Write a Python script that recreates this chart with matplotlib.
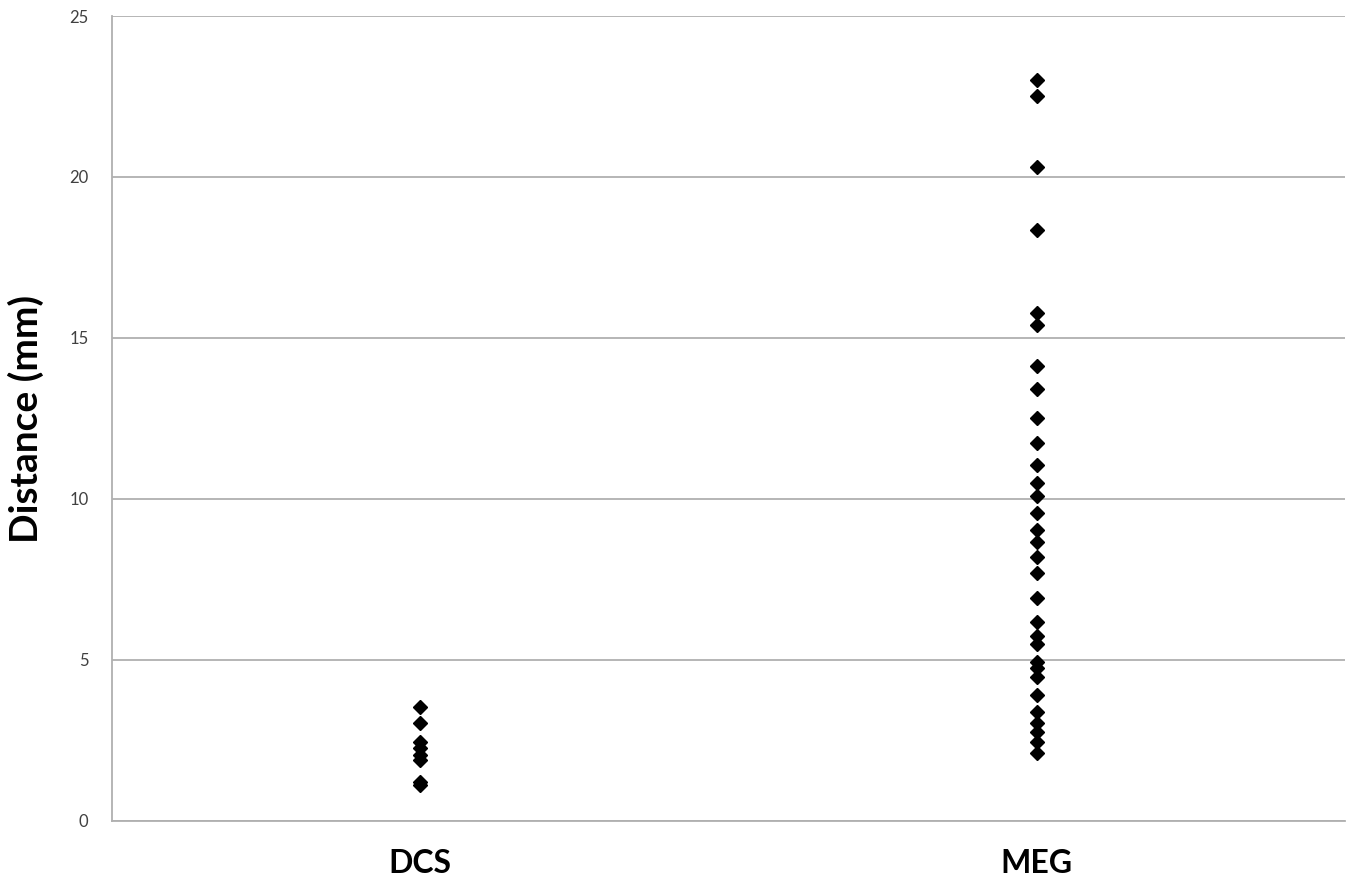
import matplotlib
matplotlib.use("Agg")
import matplotlib.pyplot as plt

# Daten
categories = ["DCS", "MEG"]

dcs_values = [3.55, 3.05, 2.46, 2.26, 2.05, 1.89, 1.22, 1.12]

meg_values = [23.0, 22.5, 20.3, 18.35, 15.77, 15.4, 14.14, 13.41, 12.51,
              11.75, 11.06, 10.51, 10.09, 9.56, 9.04, 8.67, 8.21, 7.69,
              6.92, 6.19, 5.75, 5.5, 4.95, 4.74, 4.48, 3.91, 3.39, 3.05,
              2.77, 2.46, 2.10]

y_ticks = [0, 5, 10, 15, 20, 25]

plt.rcParams["font.family"] = ["Lato", "DejaVu Sans"]

fig = plt.figure(figsize=(13.55, 8.84), dpi=100)
ax = fig.add_axes([0.0827, 0.0713, 0.9099, 0.9106])

for i, vals in enumerate([dcs_values, meg_values]):
    ax.plot([i + 1] * len(vals), vals, linestyle="none", marker="D",
            markersize=7.5, color="black", zorder=3)

ax.set_xlim(0.5, 2.5)
ax.set_ylim(0, 25)
ax.set_yticks(y_ticks)
ax.set_xticks([1, 2])
ax.set_xticklabels(categories, fontsize=23, fontweight="bold")
ax.tick_params(axis="y", labelsize=12, colors="#404040", length=0, pad=17)
ax.tick_params(axis="x", length=0, pad=20)
for lab in ax.get_xticklabels():
    lab.set_color("black")

ax.yaxis.grid(True, color="#b0b0b0", linewidth=1.3)
ax.set_axisbelow(True)
for s in ["top", "right"]:
    ax.spines[s].set_visible(False)
for s in ["left", "bottom"]:
    ax.spines[s].set_color("#b0b0b0")
    ax.spines[s].set_linewidth(1.3)

ax.set_ylabel("Distance (mm)", fontsize=28, fontweight="bold", labelpad=18)

fig.savefig("out.png", dpi=100)
